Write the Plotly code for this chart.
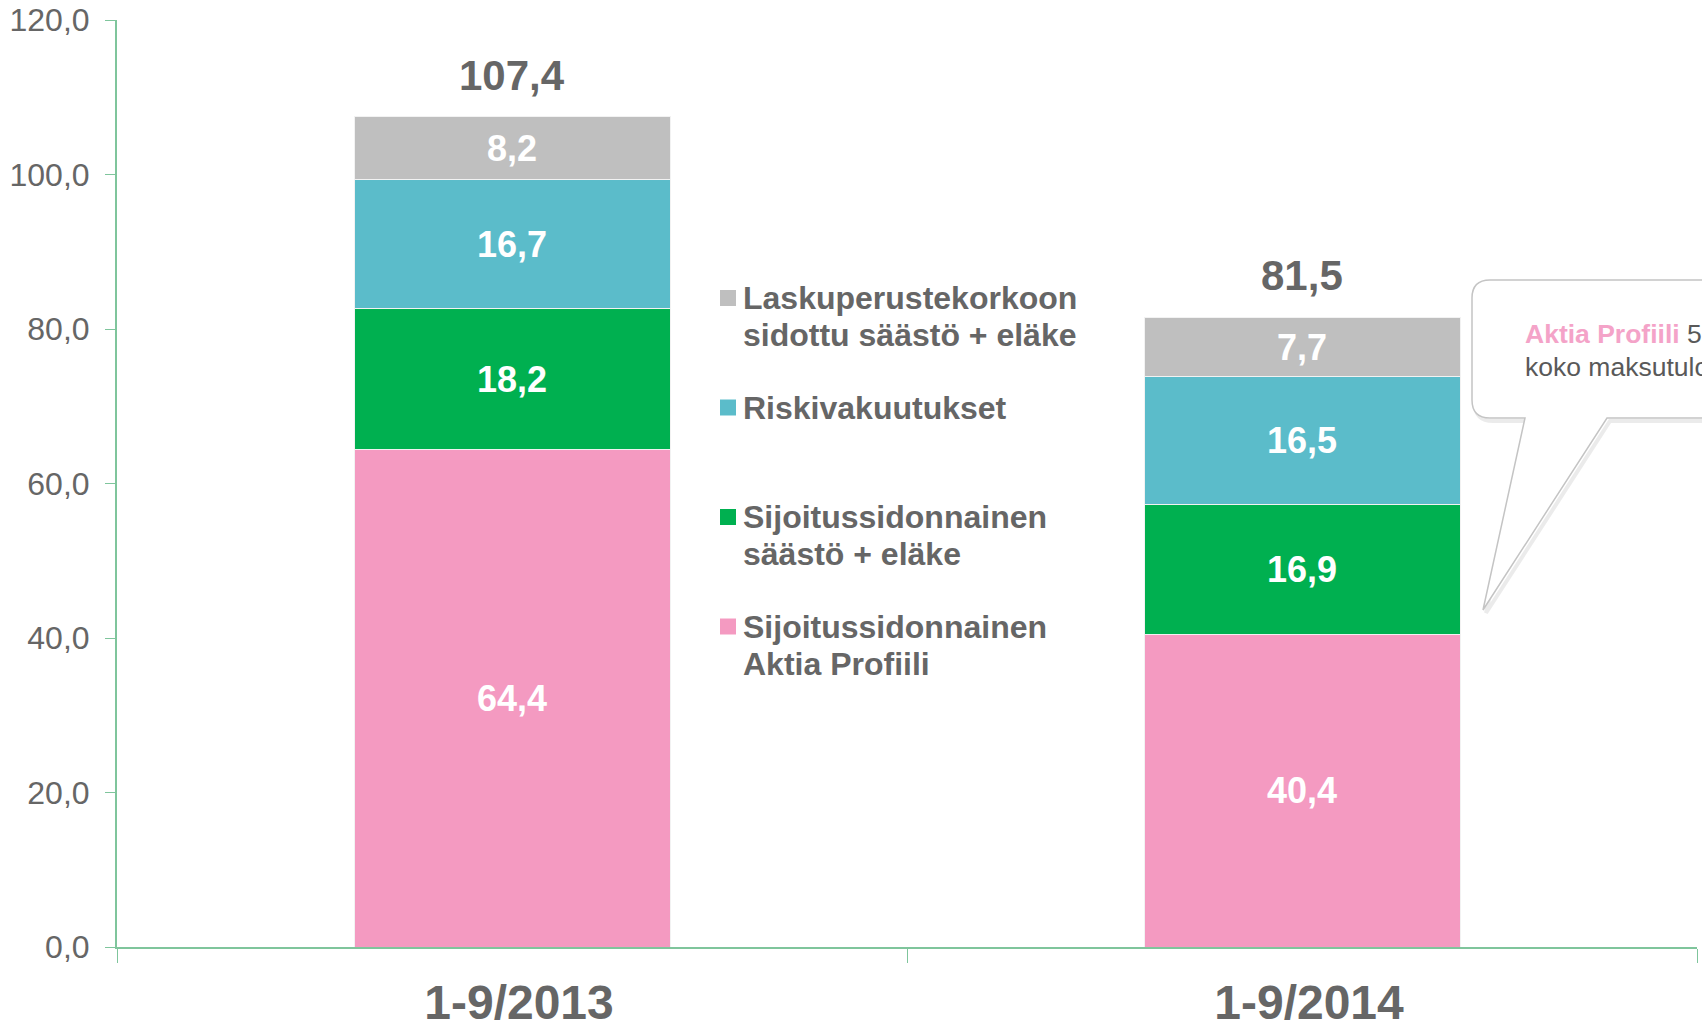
import plotly.graph_objects as go

# data
periods = ["1-9/2013", "1-9/2014"]
series_names = ["Sijoitussidonnainen Aktia Profiili",
                "Sijoitussidonnainen säästö + eläke",
                "Riskivakuutukset",
                "Laskuperustekorkoon sidottu säästö + eläke"]
profiili = [64.4, 40.4]
sijoitus = [18.2, 16.9]
riski = [16.7, 16.5]
lasku = [8.2, 7.7]
totals = [107.4, 81.5]
y_ticks = [0, 20, 40, 60, 80, 100, 120]

legend_lines = [
    ["Laskuperustekorkoon", "sidottu säästö + eläke"],
    ["Riskivakuutukset"],
    ["Sijoitussidonnainen", "säästö + eläke"],
    ["Sijoitussidonnainen", "Aktia Profiili"],
]
callout_lines = ["Aktia Profiili", " 50 % (60 %)", "koko maksutulosta"]

COLORS = ["#f49ac1", "#00b050", "#5bbcca", "#bfbfbf"]
LEGEND_COLORS = ["#bfbfbf", "#5bbcca", "#00b050", "#f49ac1"]
INK = "#666666"
AXIS = "#7fc59c"
FONT = "Liberation Sans, Arial, sans-serif"

W, H = 1702, 1022
L, R, T, B = 117, 5, 20, 75
PW, PH = W - L - R, H - T - B


def px(x):
    return (x - L) / PW


def py(y):
    return (H - B - y) / PH


fig = go.Figure()
for name, vals, col in zip(series_names, [profiili, sijoitus, riski, lasku], COLORS):
    fig.add_trace(go.Bar(
        x=periods, y=vals, name=name, marker=dict(color=col, line=dict(color="#f2f2f2", width=1)),
        texttemplate="%{y:.1f}", textposition="inside", insidetextanchor="middle",
        textangle=0, textfont=dict(color="white", size=36, family=FONT, weight="bold"),
        showlegend=False, hoverinfo="skip"))

ann = []
for p, t in zip(periods, totals):
    ann.append(dict(x=p, y=t, xref="x", yref="y", text=f"{t:.1f}".replace(".", ","),
                    showarrow=False, yanchor="middle", yshift=42,
                    font=dict(size=42, color=INK, family=FONT, weight="bold")))

# custom legend: fixed step per item, square aligned to first line
shapes = []
for i, (lines, col) in enumerate(zip(legend_lines, LEGEND_COLORS)):
    y0 = 298 + i * 109.5
    shapes.append(dict(type="rect", xref="paper", yref="paper",
                       x0=px(720), x1=px(736), y0=py(y0 - 8), y1=py(y0 + 8),
                       fillcolor=col, line=dict(width=0)))
    for j, line in enumerate(lines):
        ann.append(dict(x=px(741), y=py(y0 + j * 37), xref="paper", yref="paper",
                        text=line, showarrow=False, xanchor="left", yanchor="middle",
                        font=dict(size=32, color=INK, family=FONT, weight="bold")))

# speech bubble callout (cut off at right edge)
def bubble(dx=0, dy=0, r=18):
    pts = []
    x0, x1, y0, y1 = 1472 + dx, 1780 + dx, 280 + dy, 418 + dy
    pts.append(f"M{px(x0 + r)},{py(y0)}")
    pts.append(f"L{px(x1)},{py(y0)}")
    pts.append(f"L{px(x1)},{py(y1)}")
    pts.append(f"L{px(1607 + dx)},{py(y1)}")
    pts.append(f"L{px(1483 + dx)},{py(610 + dy)}")
    pts.append(f"L{px(1525 + dx)},{py(y1)}")
    pts.append(f"L{px(x0 + r)},{py(y1)}")
    pts.append(f"Q{px(x0)},{py(y1)} {px(x0)},{py(y1 - r)}")
    pts.append(f"L{px(x0)},{py(y0 + r)}")
    pts.append(f"Q{px(x0)},{py(y0)} {px(x0 + r)},{py(y0)}")
    return " ".join(pts) + " Z"


shapes.append(dict(type="path", xref="paper", yref="paper", path=bubble(3, 3),
                   line=dict(color="rgba(0,0,0,0.08)", width=4), fillcolor="rgba(0,0,0,0)"))
shapes.append(dict(type="path", xref="paper", yref="paper", path=bubble(),
                   line=dict(color="#c4c4c4", width=1.5), fillcolor="white"))

ann.append(dict(x=px(1523), y=py(334), xref="paper", yref="paper", showarrow=False,
                xanchor="left", yanchor="middle",
                text=f"<b><span style='color:#f4a3c8'>{callout_lines[0]}</span></b>{callout_lines[1]}",
                font=dict(size=26.5, color="#595959", family=FONT)))
ann.append(dict(x=px(1523), y=py(367), xref="paper", yref="paper", showarrow=False,
                xanchor="left", yanchor="middle", text=callout_lines[2],
                font=dict(size=26.5, color="#595959", family=FONT)))

fig.update_layout(
    width=W, height=H, barmode="stack", bargap=0.6,
    separators=", ",
    paper_bgcolor="white", plot_bgcolor="white",
    margin=dict(l=L, r=R, t=T, b=B, autoexpand=False),
    font=dict(family=FONT, color=INK),
    xaxis=dict(type="category", range=[-0.5, 1.5], showline=True, linecolor=AXIS, linewidth=2,
               ticks="outside", tickson="boundaries", ticklen=14, tickcolor=AXIS, tickwidth=1,
               showgrid=False, ticklabelstandoff=12, ticklabelshift=7,
               tickfont=dict(size=48, color=INK, family=FONT, weight="bold")),
    yaxis=dict(range=[0, 120], tickvals=y_ticks, tickformat=".1f", showline=True,
               linecolor=AXIS, linewidth=2, ticks="outside", ticklen=10, tickcolor=AXIS,
               showgrid=False, zeroline=False, ticklabelstandoff=9,
               tickfont=dict(size=32, color=INK, family=FONT)),
    shapes=shapes, annotations=ann,
)

fig.write_html("out.html", config=dict(displayModeBar=False),
               post_script="document.body.style.margin='0';document.body.style.overflow='hidden';")
